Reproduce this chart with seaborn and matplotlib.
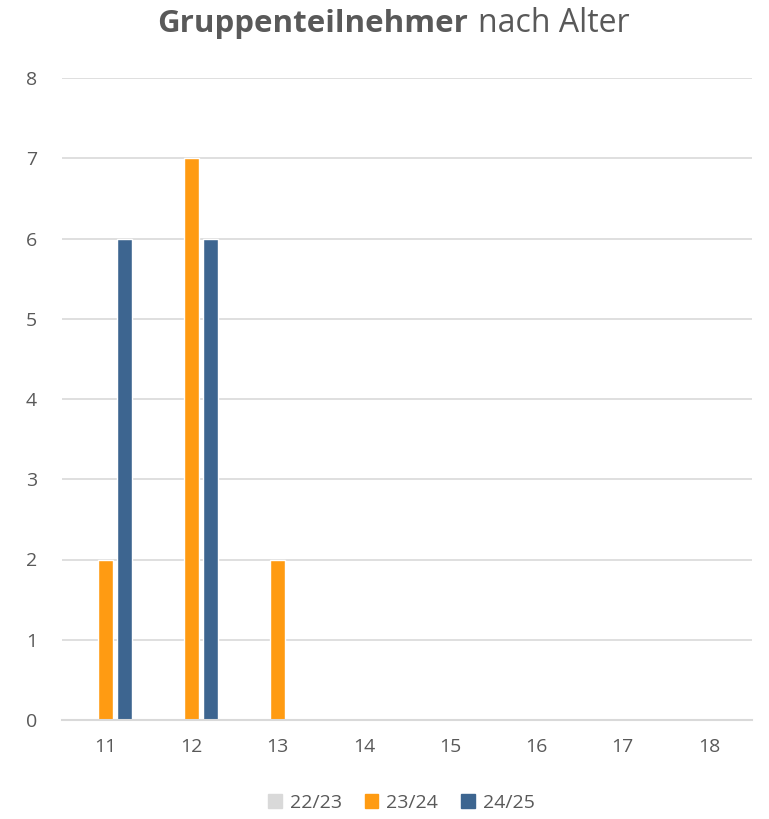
import pandas as pd
import numpy as np
import matplotlib.pyplot as plt
import seaborn as sns

# Daten
ages = ["11", "12", "13", "14", "15", "16", "17", "18"]
s_22_23 = [0, 0, 0, 0, 0, 0, 0, 0]
s_23_24 = [2, 7, 2, 0, 0, 0, 0, 0]
s_24_25 = [6, 6, 0, 0, 0, 0, 0, 0]
series_names = ["22/23", "23/24", "24/25"]
colors = ["#d9d9d9", "#ff9b12", "#3d6590"]

df = pd.DataFrame({
    "Alter": ages * 3,
    "Anzahl": s_22_23 + s_23_24 + s_24_25,
    "Jahr": [series_names[0]] * 8 + [series_names[1]] * 8 + [series_names[2]] * 8,
})

sns.set_theme(style="white")
plt.rcParams["font.family"] = ["Open Sans", "DejaVu Sans"]
text_color = "#595959"
grid_color = "#d9d9d9"

fig = plt.figure(figsize=(7.69, 8.19), dpi=100)
ax = fig.add_axes([62 / 769, 1 - 720 / 819, (752 - 62) / 769, (720 - 78) / 819])

sns.barplot(data=df, x="Alter", y="Anzahl", hue="Jahr", order=ages,
            hue_order=series_names, palette=colors, width=0.66, gap=0.2,
            saturation=1, ax=ax, legend=False)

ax.set_ylim(0, 8)
ax.set_yticks(range(0, 9))
ax.set_xlim(-0.5, len(ages) - 0.5)
ax.yaxis.grid(True, color=grid_color, linewidth=1.2)
ax.set_axisbelow(True)
for side in ["top", "right", "left"]:
    ax.spines[side].set_visible(False)
ax.spines["bottom"].set_color(grid_color)
ax.spines["bottom"].set_linewidth(1.5)
ax.tick_params(axis="both", length=0, labelsize=14, colors=text_color)
ax.tick_params(axis="x", pad=13)
ax.tick_params(axis="y", pad=18)
ax.set_xlabel("")
ax.set_ylabel("")

# Titel: fett + normal
fig.text(0.608, 1 - 24 / 819, "Gruppenteilnehmer", ha="right", va="center",
         fontsize=22.5, fontweight="bold", color=text_color)
fig.text(0.622, 1 - 24 / 819, "nach Alter", ha="left", va="center",
         fontsize=23, color=text_color)

# Legende
handles = [plt.Rectangle((0, 0), 1, 1, color=c) for c in colors]
fig.legend(handles, series_names, loc="center", bbox_to_anchor=(0.522, 1 - 803 / 819),
           ncol=3, frameon=False, fontsize=14, labelcolor=text_color,
           handlelength=0.7, handleheight=0.7, handletextpad=0.4, columnspacing=1.2)

fig.savefig("out.png", dpi=100)
